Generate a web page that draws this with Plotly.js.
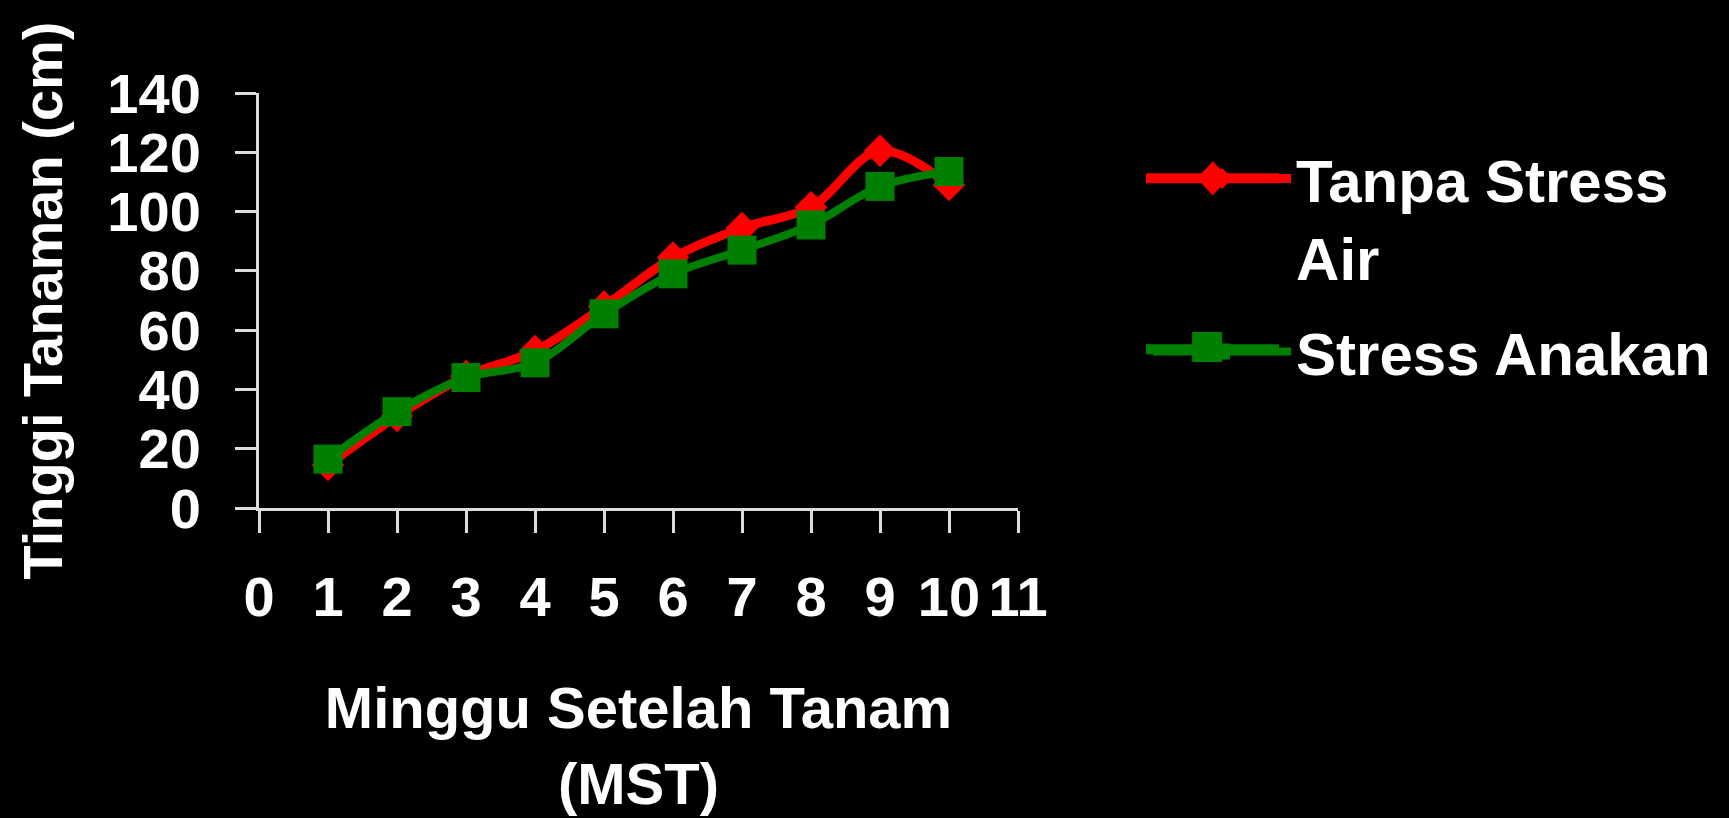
<!DOCTYPE html>
<html>
<head>
<meta charset="utf-8">
<script src="https://cdn.plot.ly/plotly-3.0.1.min.js"></script>
<style>
  html, body { margin: 0; padding: 0; background: #000; }
  #chart { width: 1729px; height: 818px; }
</style>
</head>
<body>
<div id="chart"></div>
<script>
// ---- data ----
const weeks = [1, 2, 3, 4, 5, 6, 7, 8, 9, 10];
const tanpaStressAir = [14.5, 31, 44.5, 53, 68, 84.5, 94.5, 101.5, 120.5, 109];
const stressAnakan   = [16.5, 32.5, 44, 49, 65.5, 79, 87, 95.5, 108.5, 113.5];
const seriesNames = ["Tanpa Stress<br>Air", "Stress Anakan"];
const xTickVals = [0, 1, 2, 3, 4, 5, 6, 7, 8, 9, 10, 11];
const yTickVals = [0, 20, 40, 60, 80, 100, 120, 140];

const FONT = "Liberation Sans, Arial, Helvetica, sans-serif";
const AXC = "#dcdcdc";
const RED = "#ff0000", GREEN = "#008000";

// plot area in pixels (used only to place legend-key decorations)
const W = 1729, H = 818;
const M = { l: 259, r: 711, t: 93, b: 310 };
const PW = W - M.l - M.r, PH = H - M.t - M.b;
const px2x = p => (p - M.l) / PW;
const px2y = p => (H - M.b - p) / PH;

function legendKey(color, cx, cy, lineY, x0, x1, kind, hw, hh) {
  const shapes = [{
    type: "line", xref: "paper", yref: "paper",
    x0: px2x(x0), x1: px2x(x1), y0: px2y(lineY), y1: px2y(lineY),
    line: { color: color, width: 10 }
  }];
  let path;
  if (kind === "diamond") {
    path = `M${px2x(cx - hw)},${px2y(cy)} L${px2x(cx)},${px2y(cy - hh)} L${px2x(cx + hw)},${px2y(cy)} L${px2x(cx)},${px2y(cy + hh)} Z`;
  } else {
    path = `M${px2x(cx - hw)},${px2y(cy - hh)} L${px2x(cx + hw)},${px2y(cy - hh)} L${px2x(cx + hw)},${px2y(cy + hh)} L${px2x(cx - hw)},${px2y(cy + hh)} Z`;
  }
  shapes.push({ type: "path", xref: "paper", yref: "paper", path: path,
    fillcolor: color, line: { color: color, width: 1 } });
  return shapes;
}

const traces = [
  {
    x: weeks, y: tanpaStressAir, name: seriesNames[0],
    type: "scatter", mode: "lines+markers",
    line: { color: RED, width: 9, shape: "spline", smoothing: 1 },
    marker: { symbol: "diamond", size: 25, color: RED },
    legendgroup: "a", cliponaxis: false
  },
  {
    x: weeks, y: stressAnakan, name: seriesNames[1],
    type: "scatter", mode: "lines+markers",
    line: { color: GREEN, width: 8, shape: "spline", smoothing: 1 },
    marker: { symbol: "square", size: 29, color: GREEN },
    legendgroup: "b", cliponaxis: false
  }
];

const layout = {
  width: W, height: H,
  paper_bgcolor: "#000", plot_bgcolor: "#000",
  margin: M,
  font: { family: FONT, color: "#fff", size: 56, weight: "bold" },
  showlegend: true,
  legend: {
    xref: "container", yref: "container",
    x: 0.664, y: 0.8374, xanchor: "left", yanchor: "top",
    font: { family: FONT, size: 60, color: "#fff", weight: "bold" },
    bgcolor: "rgba(0,0,0,0)", traceorder: "grouped", tracegroupgap: 14,
    valign: "top", itemwidth: 138
  },
  shapes: [].concat(
    legendKey(RED, 1212.8, 178.3, 178.3, 1146, 1279, "diamond", 15.5, 16.5),
    legendKey(GREEN, 1207.2, 347, 349.3, 1146, 1279, "square", 14.5, 14.5)
  ),
  xaxis: {
    range: [0, 11], tickmode: "array", tickvals: xTickVals,
    ticks: "outside", ticklen: 22, tickwidth: 3, tickcolor: AXC,
    showline: true, linewidth: 3, linecolor: AXC,
    showgrid: false, zeroline: false,
    tickfont: { family: FONT, size: 56, color: "#fff", weight: "bold" },
    ticklabelstandoff: 16,
    title: { text: "Minggu Setelah Tanam<br>(MST)", font: { family: FONT, size: 58, color: "#fff", weight: "bold" }, standoff: 61 }
  },
  yaxis: {
    range: [0, 140], tickmode: "array", tickvals: yTickVals,
    ticks: "outside", ticklen: 21, tickwidth: 3, tickcolor: AXC,
    showline: true, linewidth: 3, linecolor: AXC,
    showgrid: false, zeroline: false,
    tickfont: { family: FONT, size: 56, color: "#fff", weight: "bold" },
    ticklabelstandoff: 23,
    title: { text: "Tinggi Tanaman (cm)", font: { family: FONT, size: 56, color: "#fff", weight: "bold" }, standoff: 27 }
  }
};

Plotly.newPlot("chart", traces, layout, { displayModeBar: false, staticPlot: true });
</script>
</body>
</html>
